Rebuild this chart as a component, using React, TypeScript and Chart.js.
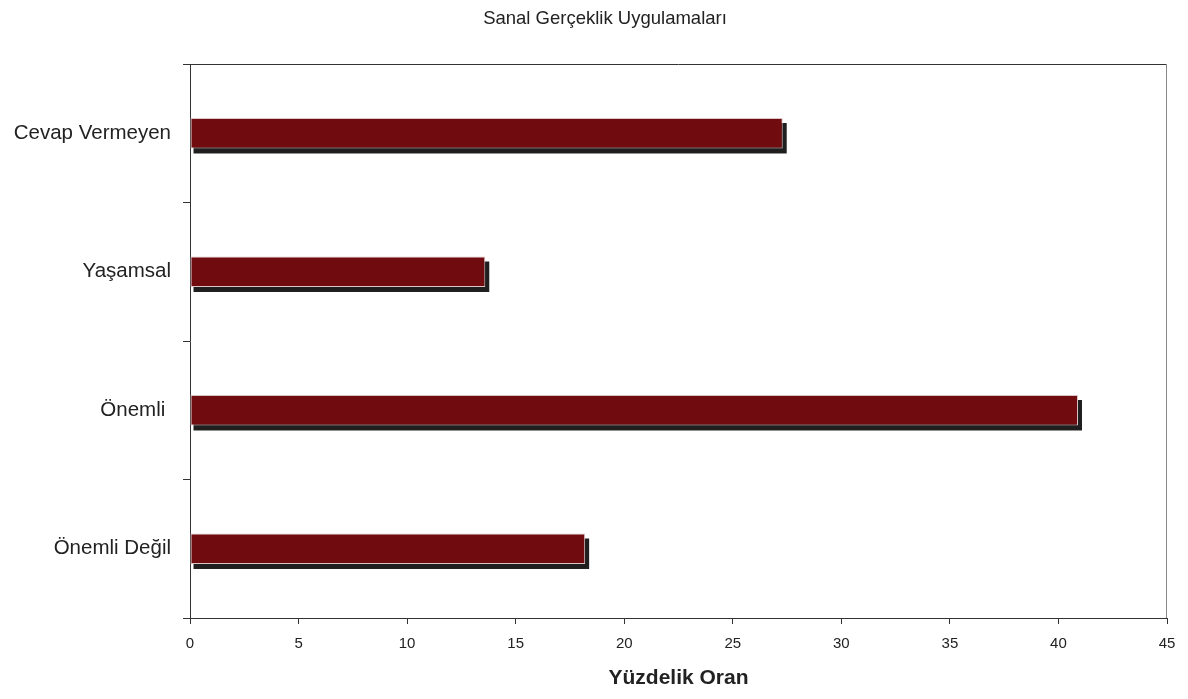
import React, { useEffect, useRef } from "react";
import { Chart, registerables } from "chart.js";

Chart.register(...registerables);

const categories = ["Cevap Vermeyen", "Yaşamsal", "Önemli ", "Önemli Değil"];
const values = [27.3, 13.6, 40.9, 18.2];
const xTicks = [0, 5, 10, 15, 20, 25, 30, 35, 40, 45];
const chartTitle = "Sanal Gerçeklik Uygulamaları";
const xAxisTitle = "Yüzdelik Oran";

const FONT = "'Liberation Sans', Arial, sans-serif";

const decorPlugin = {
  id: "decor",
  beforeDatasetsDraw(chart: any) {
    const { ctx } = chart;
    const meta = chart.getDatasetMeta(0);
    ctx.save();
    ctx.fillStyle = "#1f1f1f";
    meta.data.forEach((bar: any) => {
      const h = bar.height;
      const x0 = Math.min(bar.base, bar.x) + 3;
      const x1 = Math.max(bar.base, bar.x) + 4;
      const y0 = bar.y - h / 2 + 5;
      ctx.fillRect(x0, y0, x1 - x0, h);
    });
    ctx.restore();
  },
  afterDraw(chart: any) {
    const { ctx, chartArea } = chart;
    ctx.save();
    ctx.lineWidth = 1;
    ctx.strokeStyle = "#333";
    ctx.beginPath();
    ctx.moveTo(chartArea.left, chartArea.top + 0.5);
    ctx.lineTo(chartArea.right, chartArea.top + 0.5);
    ctx.stroke();
    ctx.strokeStyle = "#888";
    ctx.beginPath();
    ctx.moveTo(chartArea.right - 0.5, chartArea.top);
    ctx.lineTo(chartArea.right - 0.5, chartArea.bottom);
    ctx.stroke();
    ctx.fillStyle = "#222";
    ctx.font = `18.5px ${FONT}`;
    ctx.textAlign = "center";
    ctx.textBaseline = "middle";
    ctx.fillText(chartTitle, 605, 19);
    ctx.restore();
  },
};

export default function App() {
  const ref = useRef<HTMLCanvasElement>(null);
  useEffect(() => {
    document.body.style.margin = "0";
    const chart = new Chart(ref.current!, {
      type: "bar",
      data: {
        labels: categories,
        datasets: [
          {
            data: values,
            backgroundColor: "#700c10",
            borderColor: "#dcc4c4",
            borderWidth: 1,
            borderSkipped: false,
            barPercentage: 0.22,
            categoryPercentage: 1,
          },
        ],
      },
      options: {
        indexAxis: "y",
        animation: false,
        responsive: false,
        maintainAspectRatio: false,
        layout: { padding: { left: 0, top: 64, right: 21, bottom: 0 } },
        plugins: {
          legend: { display: false },
          tooltip: { enabled: false },
          title: { display: false },
        },
        scales: {
          x: {
            type: "linear",
            min: 0,
            max: 45,
            afterBuildTicks: (s: any) => {
              s.ticks = xTicks.map((v) => ({ value: v }));
            },
            afterFit: (s: any) => {
              s.height = 81;
            },
            grid: {
              drawOnChartArea: false,
              drawTicks: true,
              tickLength: 6,
              color: "#333",
            },
            border: { color: "#333", width: 1 },
            ticks: {
              color: "#222",
              font: { family: FONT, size: 15 },
              padding: 11,
              maxRotation: 0,
            },
            title: {
              display: true,
              text: xAxisTitle,
              color: "#222",
              font: { family: FONT, size: 21, weight: "bold" },
              padding: { top: 0, bottom: 8 },
            },
          },
          y: {
            type: "category",
            afterFit: (s: any) => {
              s.width = 190;
            },
            grid: {
              drawOnChartArea: false,
              drawTicks: true,
              tickLength: 7,
              offset: true,
              color: "#333",
            },
            border: { color: "#333", width: 1 },
            ticks: {
              color: "#222",
              font: { family: FONT, size: 20.5 },
              padding: 12,
            },
          },
        },
      },
      plugins: [decorPlugin],
    });
    return () => chart.destroy();
  }, []);
  return (
    <div style={{ position: "absolute", left: 0, top: 0, width: 1188, height: 699, background: "#fff" }}>
      <canvas ref={ref} width={1188} height={699} />
    </div>
  );
}
